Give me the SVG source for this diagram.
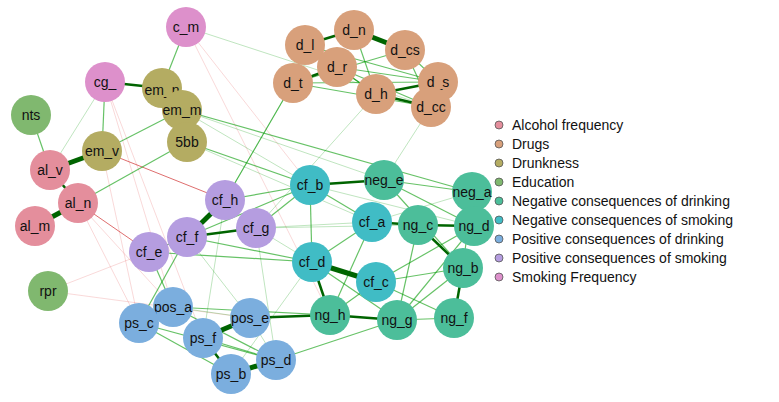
<svg xmlns="http://www.w3.org/2000/svg" width="779" height="402" viewBox="0 0 779 402">
<style>
text{font-family:"Liberation Sans",Arial,sans-serif;font-size:14px;fill:#111}
.n text{text-anchor:middle;dominant-baseline:central}
.g1{stroke:#009900;stroke-opacity:.25;stroke-width:1}
.g2{stroke:#009900;stroke-opacity:.6;stroke-width:1.2}
.g3{stroke:#006400;stroke-width:2.5}
.g4{stroke:#006400;stroke-width:5}
.r1{stroke:#e04040;stroke-opacity:.2;stroke-width:1}
.r2{stroke:#d03030;stroke-opacity:.7;stroke-width:1}
.al{fill:#E48E9C}.dr{fill:#D8A07B}.dk{fill:#B4AC62}.ed{fill:#80B86F}.nd{fill:#4CBE9A}.ns{fill:#40BCC5}.pd{fill:#7BAEDE}.ps{fill:#B59DE0}.sf{fill:#DD90CB}
</style>
<rect width="779" height="402" fill="#fff"/>
<g id="edges" fill="none">
<line class="r1" x1="186" y1="27" x2="330" y2="315"/>
<line class="r1" x1="186" y1="27" x2="310" y2="185"/>
<line class="r1" x1="105" y1="82" x2="173" y2="307"/>
<line class="r1" x1="105" y1="82" x2="203" y2="338"/>
<line class="r1" x1="102" y1="151" x2="139" y2="323"/>
<line class="r1" x1="78" y1="203" x2="173" y2="307"/>
<line class="r1" x1="78" y1="203" x2="139" y2="323"/>
<line class="r1" x1="48" y1="291" x2="250" y2="318"/>
<line class="r1" x1="48" y1="291" x2="187" y2="237"/>
<line class="r2" x1="102" y1="151" x2="225" y2="200"/>
<line class="r2" x1="78" y1="203" x2="149" y2="252"/>
<line class="g1" x1="105" y1="82" x2="50" y2="170"/>
<line class="g1" x1="182" y1="110" x2="310" y2="185"/>
<line class="g1" x1="182" y1="110" x2="384" y2="180"/>
<line class="g2" x1="182" y1="110" x2="472" y2="192"/>
<line class="g1" x1="187" y1="142" x2="372" y2="222"/>
<line class="g2" x1="187" y1="142" x2="310" y2="185"/>
<line class="g1" x1="293" y1="83" x2="225" y2="200"/>
<line class="g2" x1="293" y1="83" x2="225" y2="200"/>
<line class="g1" x1="431" y1="107" x2="384" y2="180"/>
<line class="g1" x1="376" y1="94" x2="256" y2="228"/>
<line class="g1" x1="186" y1="27" x2="431" y2="107"/>
<line class="g2" x1="186" y1="27" x2="162" y2="88"/>
<line class="g2" x1="105" y1="82" x2="102" y2="151"/>
<line class="g2" x1="31" y1="115" x2="50" y2="170"/>
<line class="g2" x1="182" y1="110" x2="102" y2="151"/>
<line class="g2" x1="187" y1="142" x2="78" y2="203"/>
<line class="g3" x1="105" y1="82" x2="162" y2="88"/>
<line class="g2" x1="162" y1="88" x2="182" y2="110"/>
<line class="g4" x1="50" y1="170" x2="102" y2="151"/>
<line class="g3" x1="50" y1="170" x2="78" y2="203"/>
<line class="g4" x1="35" y1="226" x2="78" y2="203"/>
<line class="g2" x1="305" y1="45" x2="438" y2="82"/>
<line class="g2" x1="305" y1="45" x2="376" y2="94"/>
<line class="g2" x1="337" y1="67" x2="438" y2="82"/>
<line class="g2" x1="337" y1="67" x2="431" y2="107"/>
<line class="g2" x1="293" y1="83" x2="438" y2="82"/>
<line class="g2" x1="293" y1="83" x2="431" y2="107"/>
<line class="g2" x1="405" y1="50" x2="293" y2="83"/>
<line class="g2" x1="354" y1="30" x2="376" y2="94"/>
<line class="g2" x1="405" y1="50" x2="431" y2="107"/>
<line class="g2" x1="405" y1="50" x2="438" y2="82"/>
<line class="g3" x1="305" y1="45" x2="354" y2="30"/>
<line class="g4" x1="354" y1="30" x2="405" y2="50"/>
<line class="g3" x1="293" y1="83" x2="337" y2="67"/>
<line class="g2" x1="305" y1="45" x2="293" y2="83"/>
<line class="g3" x1="376" y1="94" x2="438" y2="82"/>
<line class="g3" x1="376" y1="94" x2="431" y2="107"/>
<line class="g2" x1="337" y1="67" x2="376" y2="94"/>
<line class="g2" x1="225" y1="200" x2="310" y2="185"/>
<line class="g2" x1="187" y1="237" x2="310" y2="185"/>
<line class="g2" x1="187" y1="237" x2="312" y2="262"/>
<line class="g2" x1="149" y1="252" x2="312" y2="262"/>
<line class="g1" x1="256" y1="228" x2="372" y2="222"/>
<line class="g1" x1="256" y1="228" x2="418" y2="225"/>
<line class="g2" x1="256" y1="228" x2="310" y2="185"/>
<line class="g1" x1="256" y1="228" x2="312" y2="262"/>
<line class="g4" x1="187" y1="237" x2="225" y2="200"/>
<line class="g3" x1="187" y1="237" x2="256" y2="228"/>
<line class="g2" x1="187" y1="237" x2="149" y2="252"/>
<line class="g2" x1="149" y1="252" x2="173" y2="307"/>
<line class="g1" x1="225" y1="200" x2="203" y2="338"/>
<line class="g1" x1="256" y1="228" x2="276" y2="360"/>
<line class="g1" x1="187" y1="237" x2="250" y2="318"/>
<line class="g2" x1="187" y1="237" x2="139" y2="323"/>
<line class="g3" x1="310" y1="185" x2="384" y2="180"/>
<line class="g2" x1="310" y1="185" x2="312" y2="262"/>
<line class="g2" x1="310" y1="185" x2="372" y2="222"/>
<line class="g1" x1="310" y1="185" x2="474" y2="226"/>
<line class="g2" x1="384" y1="180" x2="472" y2="192"/>
<line class="g2" x1="384" y1="180" x2="474" y2="226"/>
<line class="g2" x1="384" y1="180" x2="463" y2="268"/>
<line class="g1" x1="472" y1="192" x2="372" y2="222"/>
<line class="g2" x1="472" y1="192" x2="463" y2="268"/>
<line class="g3" x1="372" y1="222" x2="418" y2="225"/>
<line class="g3" x1="418" y1="225" x2="474" y2="226"/>
<line class="g3" x1="418" y1="225" x2="463" y2="268"/>
<line class="g2" x1="372" y1="222" x2="312" y2="262"/>
<line class="g2" x1="372" y1="222" x2="330" y2="315"/>
<line class="g2" x1="418" y1="225" x2="397" y2="320"/>
<line class="g2" x1="474" y1="226" x2="397" y2="320"/>
<line class="g2" x1="474" y1="226" x2="376" y2="282"/>
<line class="g4" x1="312" y1="262" x2="376" y2="282"/>
<line class="g3" x1="312" y1="262" x2="330" y2="315"/>
<line class="g2" x1="312" y1="262" x2="397" y2="320"/>
<line class="g2" x1="376" y1="282" x2="330" y2="315"/>
<line class="g2" x1="376" y1="282" x2="463" y2="268"/>
<line class="g2" x1="376" y1="282" x2="454" y2="318"/>
<line class="g2" x1="463" y1="268" x2="397" y2="320"/>
<line class="g3" x1="463" y1="268" x2="454" y2="318"/>
<line class="g3" x1="330" y1="315" x2="397" y2="320"/>
<line class="g2" x1="397" y1="320" x2="454" y2="318"/>
<line class="g3" x1="250" y1="318" x2="330" y2="315"/>
<line class="g2" x1="276" y1="360" x2="397" y2="320"/>
<line class="g2" x1="173" y1="307" x2="330" y2="315"/>
<line class="g1" x1="173" y1="307" x2="250" y2="318"/>
<line class="g2" x1="139" y1="323" x2="276" y2="360"/>
<line class="g2" x1="139" y1="323" x2="231" y2="374"/>
<line class="g2" x1="173" y1="307" x2="276" y2="360"/>
<line class="g4" x1="203" y1="338" x2="250" y2="318"/>
<line class="g3" x1="203" y1="338" x2="231" y2="374"/>
<line class="g2" x1="203" y1="338" x2="276" y2="360"/>
<line class="g4" x1="231" y1="374" x2="276" y2="360"/>
<line class="g2" x1="173" y1="307" x2="139" y2="323"/>
<line class="g1" x1="250" y1="318" x2="276" y2="360"/>
<line class="g1" x1="312" y1="262" x2="231" y2="374"/>
</g>
<g class="n">
<g id="c_m"><circle class="sf" cx="186" cy="27" r="20"/><text x="186" y="27">c_m</text></g>
<g id="cg_"><circle class="sf" cx="105" cy="82" r="20"/><text x="105" y="82">cg_</text></g>
<g id="em_n"><circle class="dk" cx="162" cy="88" r="20"/><text x="162" y="90">em_n</text></g>
<g id="em_m"><circle class="dk" cx="182" cy="110" r="20"/><text x="182" y="110">em_m</text></g>
<g id="5bb"><circle class="dk" cx="187" cy="142" r="20"/><text x="187" y="142">5bb</text></g>
<g id="nts"><circle class="ed" cx="31" cy="115" r="20"/><text x="31" y="115">nts</text></g>
<g id="em_v"><circle class="dk" cx="102" cy="151" r="20"/><text x="102" y="151">em_v</text></g>
<g id="al_v"><circle class="al" cx="50" cy="170" r="20"/><text x="50" y="170">al_v</text></g>
<g id="al_n"><circle class="al" cx="78" cy="203" r="20"/><text x="78" y="203">al_n</text></g>
<g id="al_m"><circle class="al" cx="35" cy="226" r="20"/><text x="35" y="226">al_m</text></g>
<g id="rpr"><circle class="ed" cx="48" cy="291" r="20"/><text x="48" y="291">rpr</text></g>
<g id="d_l"><circle class="dr" cx="305" cy="45" r="20"/><text x="305" y="45">d_l</text></g>
<g id="d_n"><circle class="dr" cx="354" cy="30" r="20"/><text x="354" y="30">d_n</text></g>
<g id="d_cs"><circle class="dr" cx="405" cy="50" r="20"/><text x="405" y="50">d_cs</text></g>
<g id="d_r"><circle class="dr" cx="337" cy="67" r="20"/><text x="337" y="67">d_r</text></g>
<g id="d_t"><circle class="dr" cx="293" cy="83" r="20"/><text x="293" y="83">d_t</text></g>
<g id="d_s"><circle class="dr" cx="438" cy="82" r="20"/><text x="438" y="82">d_s</text></g>
<g id="d_h"><circle class="dr" cx="376" cy="94" r="20"/><text x="376" y="94">d_h</text></g>
<g id="d_cc"><circle class="dr" cx="431" cy="107" r="20"/><text x="431" y="107">d_cc</text></g>
<g id="cf_h"><circle class="ps" cx="225" cy="200" r="20"/><text x="225" y="200">cf_h</text></g>
<g id="cf_g"><circle class="ps" cx="256" cy="228" r="20"/><text x="256" y="228">cf_g</text></g>
<g id="cf_f"><circle class="ps" cx="187" cy="237" r="20"/><text x="187" y="237">cf_f</text></g>
<g id="cf_e"><circle class="ps" cx="149" cy="252" r="20"/><text x="149" y="252">cf_e</text></g>
<g id="cf_b"><circle class="ns" cx="310" cy="185" r="20"/><text x="310" y="185">cf_b</text></g>
<g id="neg_e"><circle class="nd" cx="384" cy="180" r="20"/><text x="384" y="180">neg_e</text></g>
<g id="neg_a"><circle class="nd" cx="472" cy="192" r="20"/><text x="472" y="192">neg_a</text></g>
<g id="cf_a"><circle class="ns" cx="372" cy="222" r="20"/><text x="372" y="222">cf_a</text></g>
<g id="ng_c"><circle class="nd" cx="418" cy="225" r="20"/><text x="418" y="225">ng_c</text></g>
<g id="ng_d"><circle class="nd" cx="474" cy="226" r="20"/><text x="474" y="226">ng_d</text></g>
<g id="cf_d"><circle class="ns" cx="312" cy="262" r="20"/><text x="312" y="262">cf_d</text></g>
<g id="ng_b"><circle class="nd" cx="463" cy="268" r="20"/><text x="463" y="268">ng_b</text></g>
<g id="cf_c"><circle class="ns" cx="376" cy="282" r="20"/><text x="376" y="282">cf_c</text></g>
<g id="ng_h"><circle class="nd" cx="330" cy="315" r="20"/><text x="330" y="315">ng_h</text></g>
<g id="ng_g"><circle class="nd" cx="397" cy="320" r="20"/><text x="397" y="320">ng_g</text></g>
<g id="ng_f"><circle class="nd" cx="454" cy="318" r="20"/><text x="454" y="318">ng_f</text></g>
<g id="pos_a"><circle class="pd" cx="173" cy="307" r="20"/><text x="173" y="307">pos_a</text></g>
<g id="ps_c"><circle class="pd" cx="139" cy="323" r="20"/><text x="139" y="323">ps_c</text></g>
<g id="pos_e"><circle class="pd" cx="250" cy="318" r="20"/><text x="250" y="318">pos_e</text></g>
<g id="ps_f"><circle class="pd" cx="203" cy="338" r="20"/><text x="203" y="338">ps_f</text></g>
<g id="ps_d"><circle class="pd" cx="276" cy="360" r="20"/><text x="276" y="360">ps_d</text></g>
<g id="ps_b"><circle class="pd" cx="231" cy="374" r="20"/><text x="231" y="374">ps_b</text></g>
</g>
<g id="legend" stroke="#555" stroke-width="0.8">
<circle class="al" cx="499" cy="125" r="4"/><circle class="dr" cx="499" cy="144" r="4"/><circle class="dk" cx="499" cy="163" r="4"/><circle class="ed" cx="499" cy="182" r="4"/><circle class="nd" cx="499" cy="201" r="4"/><circle class="ns" cx="499" cy="220" r="4"/><circle class="pd" cx="499" cy="239" r="4"/><circle class="ps" cx="499" cy="258" r="4"/><circle class="sf" cx="499" cy="277" r="4"/>
</g>
<g id="legend-text" style="dominant-baseline:central">
<text x="512" y="125">Alcohol frequency</text>
<text x="512" y="144">Drugs</text>
<text x="512" y="163">Drunkness</text>
<text x="512" y="182">Education</text>
<text x="512" y="201">Negative consequences of drinking</text>
<text x="512" y="220">Negative consequences of smoking</text>
<text x="512" y="239">Positive consequences of drinking</text>
<text x="512" y="258">Positive consequences of smoking</text>
<text x="512" y="277">Smoking Frequency</text>
</g>
</svg>
